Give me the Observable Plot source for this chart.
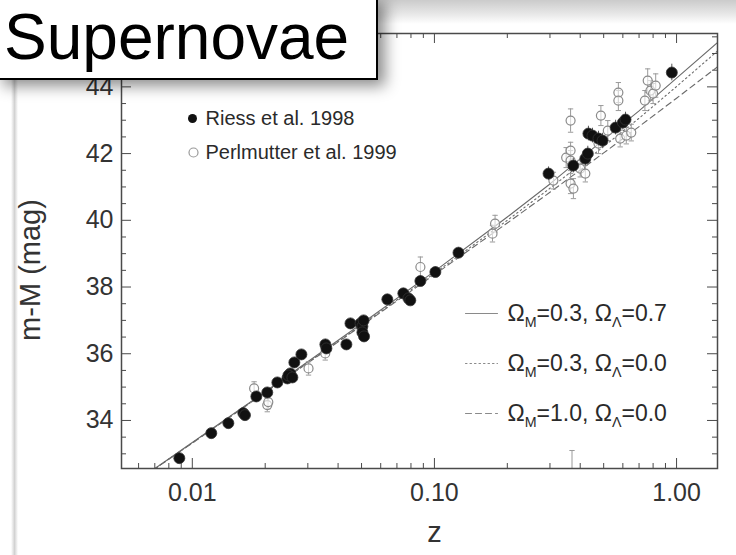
<!DOCTYPE html>
<html>
<head>
<meta charset="utf-8">
<script src="https://cdn.jsdelivr.net/npm/d3@7"></script>
<script src="https://cdn.jsdelivr.net/npm/@observablehq/plot@0.6"></script>
<style>
  body { margin: 0; background: #fff; }
  #wrap { position: relative; width: 736px; height: 555px; overflow: hidden; background: #fff; }
  #band { position: absolute; left: 0; top: 0; width: 736px; height: 24px;
          background: linear-gradient(#cbcbcb, #e6e6e6 55%, #fff); }
  #chart { position: absolute; left: 0; top: 0; }
  #edge { position: absolute; left: 11px; top: 78px; width: 7px; height: 480px;
          background: linear-gradient(90deg, rgba(255,255,255,0), #d2d2d2 50%, rgba(255,255,255,0)); }
  #title { position: absolute; left: -4px; top: -4px; width: 382px; height: 84px;
           box-sizing: border-box; border: 2px solid #000; background: #fff;
           box-shadow: 7px 6px 14px rgba(0,0,0,0.45); }
  #title span { position: absolute; left: 6px; top: 2px; font-family: "Liberation Sans", Arial, sans-serif;
                font-size: 64px; line-height: normal; color: #000; white-space: nowrap; }
</style>
</head>
<body>
<div id="wrap">
  <div id="band"></div>
  <div id="chart"></div>
  <div id="edge"></div>
  <div id="title"><span>Supernovae</span></div>
</div>
<script>
// ---- Riess et al. 1998 (filled) ----
const riessZ = [0.00884, 0.01198, 0.01409, 0.01624, 0.0165, 0.01839, 0.0204, 0.02245, 0.0247, 0.0254, 0.02493, 0.0259,
  0.02639, 0.02822, 0.03544, 0.0358, 0.04329, 0.0450, 0.0495, 0.0504, 0.0510, 0.0504, 0.0512, 0.0639, 0.0744, 0.0781,
  0.0795, 0.0875, 0.1009, 0.1257, 0.296, 0.3746, 0.42, 0.43, 0.4325, 0.4496, 0.476, 0.4947, 0.56, 0.60, 0.6155, 0.956];
const riessM = [32.87, 33.62, 33.92, 34.22, 34.16, 34.72, 34.84, 35.14, 35.26, 35.41, 35.35, 35.29,
  35.74, 35.98, 36.28, 36.16, 36.28, 36.91, 36.91, 36.82, 37.00, 36.64, 36.52, 37.63, 37.81, 37.66,
  37.60, 38.18, 38.45, 39.03, 41.40, 41.64, 41.85, 42.00, 42.60, 42.54, 42.45, 42.39, 42.78, 42.93, 43.02, 44.43];
const riessErr = [0.15, 0.12, 0.15, 0.12, 0.12, 0.15, 0.12, 0.12, 0.12, 0.12, 0.12, 0.12,
  0.12, 0.12, 0.15, 0.15, 0.12, 0.15, 0.12, 0.12, 0.12, 0.12, 0.12, 0.12, 0.12, 0.12,
  0.12, 0.15, 0.15, 0.15, 0.2, 0.22, 0.22, 0.22, 0.22, 0.22, 0.22, 0.22, 0.22, 0.22, 0.22, 0.25];

// ---- Perlmutter et al. 1999 (open) ----
const perlZ = [0.018, 0.0204, 0.0206, 0.0302, 0.0354, 0.0875, 0.1737, 0.178, 0.31, 0.35, 0.365, 0.365, 0.365,
  0.365, 0.375, 0.40, 0.42, 0.476, 0.487, 0.52, 0.575, 0.575, 0.585, 0.62, 0.65, 0.74, 0.76, 0.78, 0.80, 0.82, 0.37];
const perlM = [34.96, 34.46, 34.55, 35.56, 36.01, 38.6, 39.6, 39.9, 41.19, 41.88, 42.99, 42.09, 41.79,
  41.10, 40.95, 41.55, 41.40, 42.30, 43.14, 42.69, 43.83, 43.59, 42.45, 42.54, 42.63, 43.59, 44.19, 43.89, 43.80, 44.04, 31.9];
const perlErr = [0.2, 0.2, 0.2, 0.2, 0.2, 0.3, 0.25, 0.25, 0.25, 0.3, 0.35, 0.25, 0.3,
  0.3, 0.3, 0.25, 0.25, 0.3, 0.3, 0.3, 0.3, 0.3, 0.25, 0.25, 0.25, 0.3, 0.35, 0.3, 0.3, 0.35, 1.2];

// ---- Model curves ----
const modelZ    = [0.005, 0.01, 0.02, 0.05, 0.1, 0.2, 0.3, 0.5, 0.7, 1.0, 1.5];
const mLambda   = [31.82, 33.34, 34.86, 36.90, 38.47, 40.10, 41.09, 42.42, 43.28, 44.26, 45.37];
const mOpen     = [31.82, 33.33, 34.84, 36.86, 38.41, 40.00, 40.96, 42.21, 43.06, 44.01, 45.12];
const mFlatEdS  = [31.82, 33.32, 34.84, 36.84, 38.37, 39.92, 40.84, 42.02, 42.81, 43.66, 44.64];

// ---- ticks and labels ----
const xTickLabels = [0.01, 0.1, 1];
const xMinorTicks = [0.006, 0.007, 0.008, 0.009, 0.02, 0.03, 0.04, 0.05, 0.06, 0.07, 0.08, 0.09,
  0.2, 0.3, 0.4, 0.5, 0.6, 0.7, 0.8, 0.9];
const yTickLabels = [34, 36, 38, 40, 42, 44];
const yMinorTicks = [33, 33.5, 34.5, 35, 35.5, 36.5, 37, 37.5, 38.5, 39, 39.5, 40.5, 41, 41.5, 42.5, 43, 43.5, 44.5, 45, 45.5];
const seriesNames = ["Riess et al. 1998", "Perlmutter et al. 1999"];
const modelNames = ["Ω_M=0.3, Ω_Λ=0.7", "Ω_M=0.3, Ω_Λ=0.0", "Ω_M=1.0, Ω_Λ=0.0"];
const xLabel = "z";
const yLabel = "m-M (mag)";

const riess = riessZ.map((z, i) => ({z, m: riessM[i], e: riessErr[i]}));
const perl = perlZ.map((z, i) => ({z, m: perlM[i], e: perlErr[i]}));
const models = [mLambda, mOpen, mFlatEdS].map(arr => modelZ.map((z, i) => ({z, m: arr[i]})));

const W = 736, H = 555, ML = 121, MR = 19, MT = 33, MB = 87;
const FW = W - ML - MR, FH = H - MT - MB;
const axisColor = "#4a4a4a";
const cap = {draw(ctx, size) { const w = Math.sqrt(size) / 2; ctx.moveTo(-w, 0); ctx.lineTo(w, 0); }};
const seg = {draw(ctx, l) { ctx.moveTo(0, 0); ctx.lineTo(0, -l); }};
const dashes = [null, "1.5,3", "6,4"];

const chart = Plot.plot({
  width: W, height: H,
  marginLeft: ML, marginRight: MR, marginTop: MT, marginBottom: MB,
  style: {background: "transparent", fontFamily: "'Liberation Sans', Arial, sans-serif", color: "#333"},
  x: {type: "log", domain: [0.0051, 1.476]},
  y: {domain: [32.56, 45.6]},
  marks: [
    // model curves
    ...models.map((d, k) => Plot.line(d, {x: "z", y: "m", stroke: "#6a6a6a", strokeWidth: 1.1,
      strokeDasharray: dashes[k], clip: true})),
    // Perlmutter error bars + open circles
    Plot.ruleX(perl, {x: "z", y1: d => d.m - d.e, y2: d => d.m + d.e, stroke: "#9a9a9a", strokeWidth: 1, clip: true}),
    Plot.dot(perl, {x: "z", y: d => d.m + d.e, symbol: cap, r: 3, stroke: "#9a9a9a", strokeWidth: 1, clip: true}),
    Plot.dot(perl, {x: "z", y: d => d.m - d.e, symbol: cap, r: 3, stroke: "#9a9a9a", strokeWidth: 1, clip: true}),
    Plot.dot(perl, {x: "z", y: "m", r: 4.5, stroke: "#8a8a8a", strokeWidth: 1.2, fill: "white", fillOpacity: 0.6, clip: true}),
    // Riess error bars + filled dots
    Plot.ruleX(riess, {x: "z", y1: d => d.m - d.e, y2: d => d.m + d.e, stroke: "#555", strokeWidth: 1, clip: true}),
    Plot.dot(riess, {x: "z", y: "m", r: 5.5, fill: "#111", stroke: "#333", strokeWidth: 0.8, clip: true}),
    // frame
    Plot.frame({stroke: axisColor, strokeWidth: 1.5}),
    // inward ticks: bottom, top, left, right
    Plot.tickX(xTickLabels, {x: d => d, insetTop: FH - 10, stroke: axisColor}),
    Plot.tickX(xMinorTicks, {x: d => d, insetTop: FH - 5, stroke: axisColor}),
    Plot.tickX(xTickLabels, {x: d => d, insetBottom: FH - 10, stroke: axisColor}),
    Plot.tickX(xMinorTicks, {x: d => d, insetBottom: FH - 5, stroke: axisColor}),
    Plot.tickY(yTickLabels, {y: d => d, insetRight: FW - 10, stroke: axisColor}),
    Plot.tickY(yMinorTicks, {y: d => d, insetRight: FW - 5, stroke: axisColor}),
    Plot.tickY(yTickLabels, {y: d => d, insetLeft: FW - 10, stroke: axisColor}),
    Plot.tickY(yMinorTicks, {y: d => d, insetLeft: FW - 5, stroke: axisColor}),
    // axis labels
    Plot.axisX({ticks: xTickLabels, tickFormat: d3.format(".2f"), tickSize: 0, tickPadding: 15,
      fontSize: 25, label: null, color: "#333"}),
    Plot.axisY({ticks: yTickLabels, tickSize: 0, tickPadding: 8, fontSize: 25, label: null, color: "#333"}),
    Plot.text([xLabel], {frameAnchor: "bottom", textAnchor: "middle", lineAnchor: "middle",
      dx: 15, dy: 64, fontSize: 29, fill: "#333"}),
    Plot.text([yLabel], {frameAnchor: "left", textAnchor: "middle", lineAnchor: "middle",
      rotate: -90, dx: -91, dy: 19, fontSize: 29, fill: "#333"}),
    // top-left legend
    Plot.dot([0], {frameAnchor: "top-left", dx: 71, dy: 85, r: 4.5, fill: "#111"}),
    Plot.dot([0], {frameAnchor: "top-left", dx: 72, dy: 119, r: 4.5, stroke: "#999", fill: "white", strokeWidth: 1.2}),
    ...seriesNames.map((s, k) => Plot.text([s], {frameAnchor: "top-left", dx: 84, dy: 85 + 34 * k,
      textAnchor: "start", lineAnchor: "middle", fontSize: 20, fill: "#2a2a2a"})),
    // bottom-right model legend
    ...modelNames.map((s, k) => Plot.vector([0], {frameAnchor: "top-left", dx: 344, dy: 280 + 50 * k,
      length: 32, rotate: 90, anchor: "start", shape: seg, stroke: "#8a8a8a", strokeWidth: 1.1,
      strokeDasharray: dashes[k]})),
    ...modelNames.map((s, k) => Plot.text([s], {frameAnchor: "top-left", dx: 386, dy: 280 + 50 * k,
      textAnchor: "start", lineAnchor: "middle", fontSize: 23, fill: "#2a2a2a"}))
  ]
});

// render subscripts ("_X" -> subscript X)
chart.querySelectorAll("text").forEach(t => {
  const s = t.textContent;
  if (!s.includes("_")) return;
  t.textContent = "";
  let buf = "";
  const parts = [];
  for (let i = 0; i < s.length; i++) {
    if (s[i] === "_") { if (buf) parts.push({s: buf, sub: false}); buf = ""; parts.push({s: s[i + 1], sub: true}); i++; }
    else buf += s[i];
  }
  if (buf) parts.push({s: buf, sub: false});
  let shifted = false;
  parts.forEach(p => {
    const ts = document.createElementNS("http://www.w3.org/2000/svg", "tspan");
    ts.textContent = p.s;
    if (p.sub) { ts.setAttribute("font-size", "0.62em"); ts.setAttribute("dy", "0.45em"); shifted = true; }
    else if (shifted) { ts.setAttribute("dy", "-0.28em"); shifted = false; }
    t.appendChild(ts);
  });
});

document.getElementById("chart").appendChild(chart);
</script>
</body>
</html>
